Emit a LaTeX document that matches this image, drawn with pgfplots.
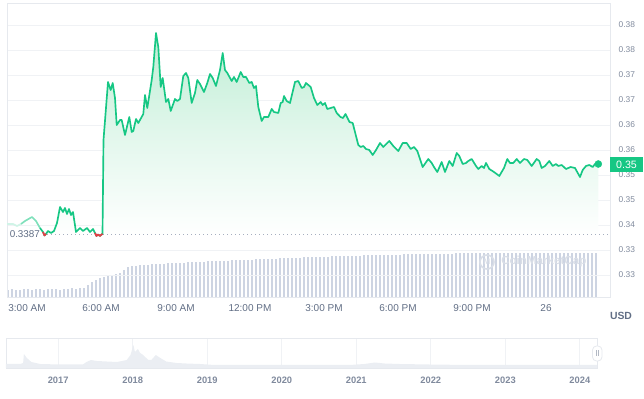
\documentclass[border=0pt]{standalone}
\usepackage{pgfplots}
\pgfplotsset{compat=1.18}
\usepackage{pgfplotstable}
\usepackage{fontspec}
\setmainfont{Liberation Sans}
\definecolor{cmcgreen}{HTML}{16C784}
\definecolor{cmcred}{HTML}{EA3943}
\definecolor{gridc}{HTML}{F0F2F5}
\definecolor{framec}{HTML}{E6E9EE}
\definecolor{lab}{HTML}{616E85}
\definecolor{ylab}{HTML}{808A9D}
\definecolor{barc}{HTML}{CDD4E2}
\definecolor{navfill}{HTML}{EBEEF3}
\definecolor{filltop}{HTML}{BDEDD4}
\definecolor{fillmid}{HTML}{E2F7EC}
\definecolor{dotc}{HTML}{A6AFBF}
\definecolor{wm}{HTML}{D9DEE7}

\pgfplotstableread[row sep=\\]{
x p\\
40 0.3444\\ 43 0.3436\\ 44.5 0.3429\\ 46 0.3432\\ 48 0.3438\\ 51 0.3434\\ 54 0.3438\\ 57 0.3454\\
60 0.3486\\ 63 0.3476\\ 65 0.3484\\ 67 0.3472\\ 69 0.3482\\ 71 0.3470\\ 73 0.3476\\ 76 0.3436\\
80 0.3444\\ 83 0.3438\\ 87 0.3444\\ 90 0.3436\\ 93 0.3442\\ 95 0.3434\\ 96.5 0.3428\\ 98 0.3431\\
100 0.3428\\ 101.5 0.3431\\ 102.5 0.3432\\ 103.5 0.3620\\ 108 0.3736\\ 110.7 0.3720\\ 112.7 0.3734\\
115 0.3704\\ 116.7 0.3650\\ 120 0.3660\\ 121.7 0.3660\\ 125 0.3630\\ 129.3 0.3666\\ 131.7 0.3636\\
133.3 0.3638\\ 136 0.3662\\ 138.3 0.3654\\ 143.3 0.3672\\ 145 0.3710\\ 147.3 0.3684\\ 151.7 0.3740\\
153.3 0.3766\\ 156 0.3834\\ 158.3 0.3806\\ 160.7 0.3726\\ 162.7 0.3744\\ 166 0.3696\\ 168.3 0.3702\\
170.7 0.3678\\ 175 0.3702\\ 177.3 0.3698\\ 180 0.3702\\ 183.3 0.3748\\ 186 0.3754\\ 188.3 0.3744\\
191.7 0.3694\\ 195 0.3714\\ 197.3 0.3740\\ 200 0.3732\\ 204 0.3716\\ 207.3 0.3734\\ 210 0.3752\\
212.7 0.3744\\ 216 0.3728\\ 220 0.3760\\ 222.7 0.3794\\ 225 0.3760\\ 227.3 0.3754\\ 231.7 0.3738\\
234 0.3746\\ 236.7 0.3736\\ 240.7 0.3756\\ 243.3 0.3746\\ 246 0.3746\\ 249.3 0.3734\\ 251.7 0.3736\\
254 0.3724\\ 256 0.3728\\ 258.3 0.3686\\ 261.7 0.3658\\ 264 0.3666\\ 268.3 0.3666\\ 271.7 0.3682\\
274 0.3676\\ 278.3 0.3674\\ 280.7 0.3694\\ 282.7 0.3696\\ 284 0.3708\\ 286.7 0.3698\\ 290 0.3694\\
295 0.3736\\ 298.3 0.3738\\ 301.7 0.3724\\ 304 0.3726\\ 306 0.3734\\ 310.7 0.3726\\ 314 0.3704\\
317.3 0.3690\\ 320.7 0.3696\\ 322.7 0.3690\\ 325 0.3694\\ 327.3 0.3682\\ 330.7 0.3684\\ 334 0.3686\\
336.7 0.3674\\ 340.5 0.3666\\ 343 0.3664\\ 345.5 0.3672\\ 349.5 0.3656\\ 352.7 0.3654\\ 358.3 0.3610\\
360.7 0.3606\\ 363.3 0.3608\\ 366 0.3602\\ 369.3 0.3600\\ 372.7 0.3590\\ 376 0.3600\\ 380 0.3614\\
383.3 0.3606\\ 389.3 0.3618\\ 393.3 0.3608\\ 398.3 0.3598\\ 402.7 0.3614\\ 406.7 0.3614\\ 410.7 0.3602\\
414 0.3606\\ 417.3 0.3598\\ 422.7 0.3566\\ 428.3 0.3582\\ 431.7 0.3574\\ 434 0.3566\\ 437.3 0.3556\\
441.7 0.3576\\ 445 0.3556\\ 449.3 0.3578\\ 452.7 0.3568\\ 456.7 0.3594\\ 459.3 0.3588\\ 462.7 0.3572\\
466 0.3574\\ 468.3 0.3578\\ 471.7 0.3582\\ 476 0.3568\\ 478.3 0.3562\\ 481.7 0.3568\\ 484 0.3564\\
486 0.3574\\ 489.3 0.3562\\ 494 0.3556\\ 499.3 0.3548\\ 504 0.3564\\ 507.3 0.3582\\ 510 0.3574\\
513.3 0.3574\\ 516.7 0.3582\\ 520 0.3574\\ 524 0.3582\\ 527.3 0.3580\\ 531.7 0.3568\\ 536.7 0.3582\\
539.3 0.3578\\ 541.7 0.3564\\ 545 0.3568\\ 549.3 0.3578\\ 552.7 0.3568\\ 556 0.3572\\ 558.3 0.3568\\
561.7 0.3570\\ 566 0.3562\\ 570.7 0.3566\\ 575 0.3564\\ 580 0.3546\\ 582.7 0.3560\\ 586 0.3568\\
589.3 0.3570\\ 592.7 0.3566\\ 595 0.3572\\ 598.3 0.3572\\
}\pricedata

\pgfplotstableread[row sep=\\]{
x v\\
8 7\\ 12 8\\ 16 7\\ 20 7\\ 24 8\\ 28 8\\ 32 7\\ 36 8\\ 40 8\\ 44 7\\ 48 8\\ 52 8\\ 56 8\\ 60 7\\
64 8\\ 68 8\\ 72 9\\ 76 8\\ 80 9\\ 84 9\\ 88 12\\ 92 15\\ 96 17\\ 100 19\\ 104 20\\ 108 21\\ 112 22\\
116 23\\ 120 24\\ 124 27\\ 128 30\\ 132 31\\ 136 31\\ 140 32\\ 144 32\\ 148 32\\ 152 33\\ 156 33\\
160 33\\ 164 33\\ 168 34\\ 172 34\\ 176 34\\ 180 34\\ 184 34\\ 188 35\\ 192 35\\ 196 35\\ 200 35\\
204 35\\ 208 36\\ 212 36\\ 216 36\\ 220 36\\ 224 36\\ 228 36\\ 232 37\\ 236 37\\ 240 37\\ 244 37\\
248 37\\ 252 37\\ 256 38\\ 260 38\\ 264 38\\ 268 38\\ 272 38\\ 276 38\\ 280 39\\ 284 39\\ 288 39\\
292 39\\ 296 39\\ 300 39\\ 304 40\\ 308 40\\ 312 40\\ 316 40\\ 320 40\\ 324 40\\ 328 40\\ 332 41\\
336 41\\ 340 41\\ 344 41\\ 348 41\\ 352 41\\ 356 41\\ 360 41\\ 364 42\\ 368 42\\ 372 42\\ 376 42\\
380 42\\ 384 42\\ 388 42\\ 392 42\\ 396 42\\ 400 42\\ 404 43\\ 408 43\\ 412 43\\ 416 43\\ 420 43\\
424 43\\ 428 43\\ 432 43\\ 436 43\\ 440 43\\ 444 43\\ 448 43\\ 452 43\\ 456 44\\ 460 44\\ 464 44\\
468 44\\ 472 44\\ 476 44\\ 480 44\\ 484 44\\ 488 44\\ 492 44\\ 496 44\\ 500 44\\ 504 44\\ 508 44\\
512 44\\ 516 44\\ 520 44\\ 524 44\\ 528 44\\ 532 44\\ 536 44\\ 540 44\\ 544 44\\ 548 44\\ 552 44\\
556 44\\ 560 44\\ 564 44\\ 568 44\\ 572 44\\ 576 44\\ 580 44\\ 584 44\\ 588 44\\ 592 44\\ 596 44\\
}\voldata

\pgfplotstableread[row sep=\\]{
yr h\\
2016.30 4\\ 2016.49 4\\ 2016.53 5\\ 2016.54 14\\ 2016.58 10\\ 2016.64 6\\ 2016.76 4\\ 2017.02 3.5\\
2017.33 3.5\\ 2017.38 6\\ 2017.44 8\\ 2017.52 7\\ 2017.65 6.5\\ 2017.79 6\\ 2017.92 8\\ 2017.97 13\\
2018.01 23\\ 2018.03 16\\ 2018.07 19\\ 2018.10 15\\ 2018.14 13\\ 2018.21 8\\ 2018.25 8\\ 2018.31 13\\
2018.36 10.5\\ 2018.45 6.5\\ 2018.59 5\\ 2018.72 4.5\\ 2018.90 4\\ 2019.10 3\\ 2020.91 3\\ 2021.11 4\\
2021.25 5.5\\ 2021.38 4.5\\ 2021.58 4\\ 2021.98 3.5\\ 2022.52 3\\ 2024.23 3\\
}\navdata

\begin{document}
\begin{tikzpicture}
\useasboundingbox (0,0) rectangle (483pt,-299.25pt);
% volume bars
\begin{axis}[at={(5.25pt,-222.75pt)}, anchor=south west, scale only axis,
  width=452.25pt, height=220.5pt, xmin=7, xmax=610, ymin=0, ymax=294, hide axis]
\addplot[ycomb, draw=barc, line width=0.85pt, mark=none] table[x=x,y=v]{\voldata};
\end{axis}
% price
\begin{axis}[at={(5.25pt,-222.75pt)}, anchor=south west, scale only axis,
  width=452.25pt, height=220.5pt, xmin=7, xmax=610, ymin=0.3306, ymax=0.3894,
  axis line style={draw=framec, line width=0.6pt},
  ytick={0.335,0.340,0.345,0.350,0.355,0.360,0.365,0.370,0.375,0.380,0.385},
  yticklabels={0.33,0.33,0.34,0.35,0.35,0.36,0.36,0.37,0.37,0.38,0.38},
  yticklabel pos=right, ymajorgrids, grid style={gridc, line width=0.6pt},
  major tick length=0,
  xtick={27,101,176,250,324,398,472,546},
  xticklabels={3:00 AM,6:00 AM,9:00 AM,12:00 PM,3:00 PM,6:00 PM,9:00 PM,26},
  xticklabel style={font=\fontsize{7.5}{9}\selectfont, text=lab, yshift=-2pt},
  yticklabel style={font=\fontsize{6.3}{7}\selectfont, text=ylab, xshift=3pt},
  ]
\addplot[draw=none, top color=filltop, bottom color=white, middle color=fillmid]
  table[x=x,y=p]{\pricedata} -- (axis cs:598.3,0.3432) -- (axis cs:40,0.3432) -- cycle;
\addplot[dotc, line width=0.7pt, dash pattern=on 0.7pt off 2.3pt] coordinates {(43,0.3432) (610,0.3432)};
\addplot[cmcgreen!20, line width=1.25pt] coordinates {(7,0.3452) (13,0.3452) (17,0.3448) (21,0.3452)};
\addplot[cmcgreen!55, line width=1.25pt, line join=round] coordinates {(21,0.3452) (25,0.3458) (32,0.3466) (36,0.3458) (40,0.3444)};
\addplot[cmcgreen, line width=1.25pt, line join=round] table[x=x,y=p]{\pricedata};
\addplot[cmcred, line width=1.25pt, line join=round] coordinates {(43,0.3436) (44.5,0.3429) (46,0.3432)};
\addplot[cmcred, line width=1.25pt, line join=round] coordinates {(95,0.3434) (96.5,0.3428) (98,0.3431) (100,0.3428) (101.5,0.3431) (102.5,0.3432)};
\addplot[only marks, mark=*, mark size=2.6pt, cmcgreen] coordinates {(598.3,0.3572)};
\end{axis}
% navigator
\begin{axis}[at={(4.5pt,-276pt)}, anchor=south west, scale only axis,
  width=443.25pt, height=22.5pt, xmin=2016.30, xmax=2024.23, ymin=0, ymax=30,
  axis line style={draw=framec, line width=0.6pt},
  xtick={2017,2018,2019,2020,2021,2022,2023,2024},
  xticklabels={2017,2018,2019,2020,2021,2022,2023,2024},
  ytick=\empty, xmajorgrids, grid style={gridc, line width=0.6pt}, major tick length=0,
  xticklabel style={font=\bfseries\fontsize{7}{8}\selectfont, text=ylab, yshift=-3pt},
  ]
\addplot[fill=navfill, draw=none] table[x=yr,y=h]{\navdata} \closedcycle;
\end{axis}
\begin{scope}[x=0.75pt,y=-0.75pt]
% watermark
\draw[wm, line width=1.2pt] (487,262) circle (7);
\node[text=wm, font=\bfseries\fontsize{6}{6}\selectfont, inner sep=0] at (487,262) {M};
\node[text=wm, font=\bfseries\fontsize{8.7}{9}\selectfont, anchor=west, inner sep=0] at (501,262) {CoinMarketCap};
% price tag
\fill[cmcgreen] (610,157.5) rectangle (643,172);
\node[text=white, font=\fontsize{8}{9}\selectfont, inner sep=0] at (626.5,164.8) {0.35};
% open label
\node[text=lab, font=\fontsize{7.4}{8}\selectfont, anchor=west, inner sep=0] at (9.5,234) {0.3387};
% USD
\node[text=lab, font=\bfseries\fontsize{7.8}{9}\selectfont, inner sep=0] at (621,315.5) {USD};
% navigator handle
\draw[fill=white, draw=framec, line width=0.6pt, rounded corners=3pt] (592.5,346) rectangle (602,361);
\draw[ylab!60, line width=0.4pt] (596.5,350.5) -- (596.5,356.5) (598.5,350.5) -- (598.5,356.5);
\end{scope}
\end{tikzpicture}
\end{document}
